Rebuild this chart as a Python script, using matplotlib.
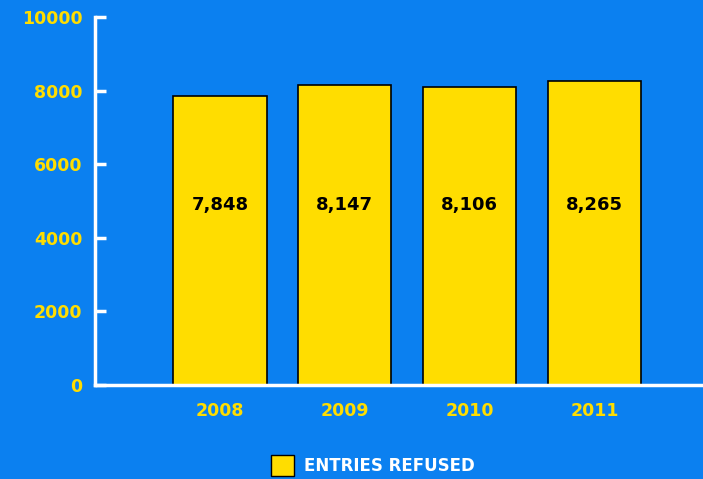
import matplotlib.pyplot as plt
from matplotlib.patches import Patch

years = ['2008', '2009', '2010', '2011']
refused = [7848, 8147, 8106, 8265]
yticks = [0, 2000, 4000, 6000, 8000, 10000]

bg = '#0B80F0'
yellow = '#FFDD00'

fig = plt.figure(figsize=(7.03, 4.79), dpi=100, facecolor=bg)
ax = fig.add_axes([0.1351, 0.1962, 0.8649, 0.7683], facecolor=bg)

x = range(len(years))
ax.bar(x, refused, width=0.75, color=yellow, edgecolor='black', linewidth=1.2, zorder=2)

# value labels in the middle of the bars
for xi, v in zip(x, refused):
    ax.text(xi, 4900, f'{v:,}', ha='center', va='center', fontsize=13,
            fontweight='bold', color='black', zorder=3)

ax.set_xlim(-1.0, 3.87)
ax.set_ylim(0, 10000)
ax.set_xticks(list(x))
ax.set_xticklabels(years)
ax.set_yticks(yticks)

for side in ['top', 'right']:
    ax.spines[side].set_visible(False)
for side in ['left', 'bottom']:
    ax.spines[side].set_color('white')
    ax.spines[side].set_linewidth(2.5)

ax.tick_params(axis='y', direction='in', length=8, width=2.5, color='white',
               labelcolor=yellow, labelsize=12.5, pad=9)
ax.tick_params(axis='x', length=0, labelcolor=yellow, labelsize=12.5, pad=12)
for lab in ax.get_xticklabels() + ax.get_yticklabels():
    lab.set_fontweight('bold')

handles = [Patch(facecolor=yellow, edgecolor='black', label='ENTRIES REFUSED')]
leg = fig.legend(handles=handles, loc='lower center', bbox_to_anchor=(0.53, -0.025),
                 frameon=False, handlelength=1.4, handleheight=1.6, handletextpad=0.6,
                 prop={'size': 12, 'weight': 'bold'})
for t in leg.get_texts():
    t.set_color('white')

fig.savefig('out.png', dpi=100, facecolor=bg)
